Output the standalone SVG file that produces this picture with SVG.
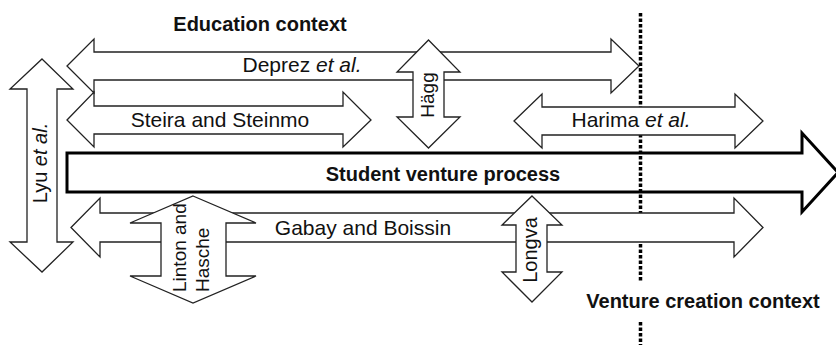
<svg xmlns="http://www.w3.org/2000/svg" width="836" height="345" viewBox="0 0 836 345">
<style>
.arr{fill:#fff;stroke:#222;stroke-width:1.3;stroke-linejoin:miter}
.main{fill:#fff;stroke:#000;stroke-width:3;stroke-linejoin:miter}
.t{font-family:"Liberation Sans",Arial,sans-serif;font-size:21px;fill:#111;text-anchor:middle}
.b{font-family:"Liberation Sans",Arial,sans-serif;font-size:20px;font-weight:bold;fill:#111;text-anchor:middle}
.r{font-family:"Liberation Sans",Arial,sans-serif;font-size:20px;fill:#111;text-anchor:middle}
.dots{stroke:#000;stroke-width:3.5;stroke-dasharray:3.5 2;fill:none}
</style>
<rect width="836" height="345" fill="#fff"/>
<text class="b" x="260" y="31">Education context</text>
<text class="b" x="703" y="308">Venture creation context</text>
<g id="student">
<polygon class="main" points="67,153 802,153 802,133 838,172.5 802,212 802,192 67,192"/>
<text class="b" x="443" y="181">Student venture process</text>
</g>
<g id="connectors">
<line class="dots" x1="640.5" y1="13" x2="640.5" y2="281"/>
<line class="dots" x1="640.5" y1="322" x2="640.5" y2="345"/>
</g>
<g id="deprez">
<polygon class="arr" points="67,66 94,39 94,52 611,52 611,39 639,66 611,93 611,80 94,80 94,93"/>
<text class="t" x="302" y="72">Deprez <tspan font-style="italic">et al.</tspan></text>
</g>
<g id="steira">
<polygon class="arr" points="67,120 94,92 94,106 343,106 343,92 371,120 343,147 343,134 94,134 94,147"/>
<text class="t" x="220" y="127">Steira and Steinmo</text>
</g>
<g id="harima">
<polygon class="arr" points="514,121 542,94 542,107 735,107 735,94 763,121 735,148 735,135 542,135 542,148"/>
<text class="t" x="631" y="127">Harima <tspan font-style="italic">et al.</tspan></text>
</g>
<g id="hagg">
<polygon class="arr" points="428.5,40 460,72 444,72 444,117 460,117 428.5,148 397,117 413,117 413,72 397,72"/>
<text class="r" style="font-size:19px" transform="translate(434,95) rotate(-90)">Hägg</text>
</g>
<g id="lyu">
<polygon class="arr" points="42,59 73,89 57,89 57,242 73,242 42,272 10,242 27,242 27,89 10,89"/>
<text class="r" transform="translate(47,163) rotate(-90)">Lyu <tspan font-style="italic">et al.</tspan></text>
</g>
<g id="gabay">
<polygon class="arr" points="71,227.5 100,198 100,213 734,213 734,198 763,227.5 734,257 734,242 100,242 100,257"/>
<text class="t" x="363" y="235">Gabay and Boissin</text>
</g>
<g id="linton">
<polygon class="arr" points="193,196 256,223 226,223 226,276 256,276 193,303 130,276 161,276 161,223 130,223"/>
<text class="r" style="font-size:19px;text-anchor:start" transform="translate(186,292) rotate(-90)">Linton and</text>
<text class="r" style="font-size:19px;text-anchor:start" transform="translate(209,292) rotate(-90)">Hasche</text>
</g>
<g id="longva">
<polygon class="arr" points="532,196 562,225 547,225 547,272 562,272 532,302 502,272 516,272 516,225 502,225"/>
<text class="r" transform="translate(537,250) rotate(-90)">Longva</text>
</g>
</svg>
